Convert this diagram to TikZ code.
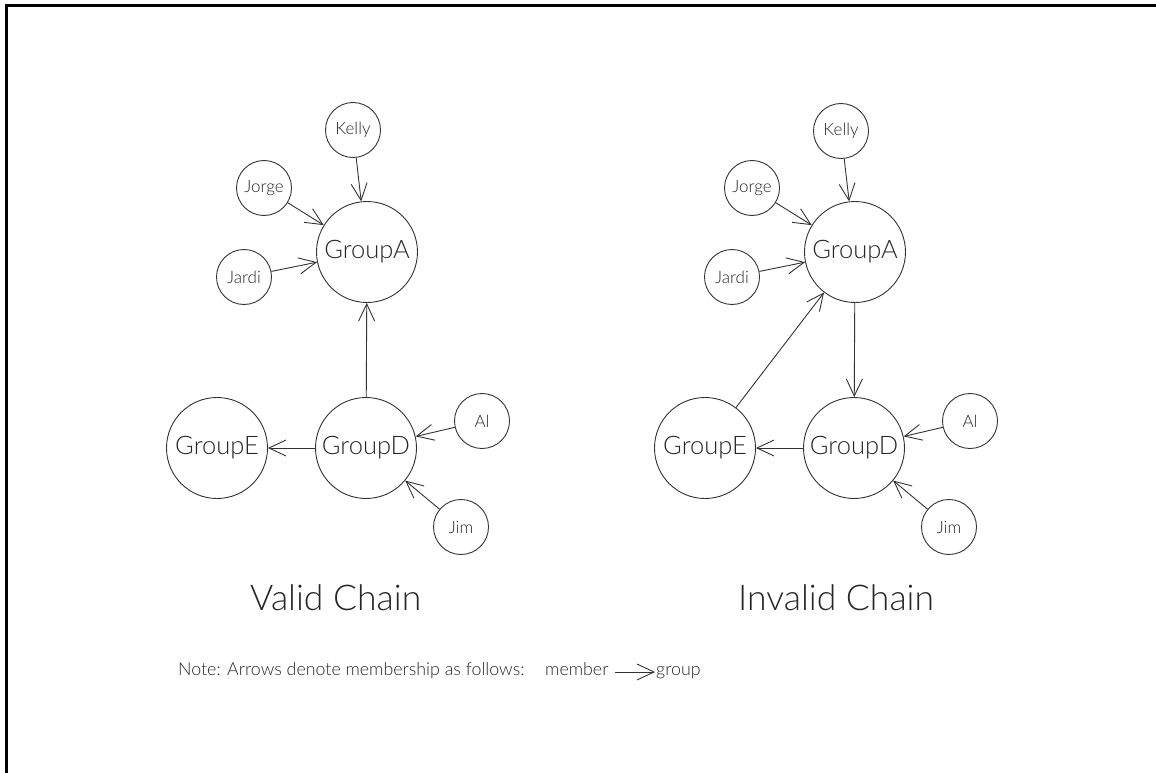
\documentclass[tikz,border=0pt]{standalone}
\usepackage{fontspec}
\setmainfont{Lato Light}
\usetikzlibrary{arrows.meta}
\begin{document}
\begin{tikzpicture}[x=1pt,y=-1pt,
  member/.style={circle,draw=black!80,line width=0.9pt,minimum size=55pt,
    inner sep=0pt,text=black!85,font=\fontsize{17}{17}\selectfont},
  group/.style={circle,draw=black!80,line width=0.9pt,minimum size=101pt,
    inner sep=0pt,text=black!85,font=\fontsize{25.5}{25.5}\selectfont},
  link/.style={draw=black!80,line width=0.9pt,
    -{Straight Barb[length=17pt,width=16pt]}},
  caption/.style={anchor=base west,inner sep=0pt,text=black!85,
    font=\fontsize{35.5}{35.5}\selectfont},
  notetext/.style={anchor=base west,inner sep=0pt,text=black!85,
    font=\fontsize{17.8}{17.8}\selectfont}]
\useasboundingbox (0,0) rectangle (1156,773);

% page frame (top and left edges)
\draw[line width=3pt] (6.5,773) -- (6.5,5.5) -- (1156,5.5);

% ---- valid chain ----
\node[member] (vKelly) at (353,130) {Kelly};
\node[member] (vJorge) at (264,188) {Jorge};
\node[group]  (vA)     at (367,252) {GroupA};
\node[member] (vJardi) at (244,277) {Jardi};
\node[group]  (vE)     at (217,448) {GroupE};
\node[group]  (vD)     at (366,448) {GroupD};
\node[member] (vAl)    at (482,421) {Al};
\node[member] (vJim)   at (461,527) {Jim};

\draw[link] (vKelly) -- (vA);
\draw[link] (vJorge) -- (vA);
\draw[link] (vJardi) -- (vA);
\draw[link] (vD) -- (vA);
\draw[link] (vD) -- (vE);
\draw[link] (vAl) -- (vD);
\draw[link] (vJim) -- (vD);

\node[caption] (vTitle) at (250,610) {Valid Chain};

% ---- invalid chain ----
\node[member] (iKelly) at (841,131) {Kelly};
\node[member] (iJorge) at (752,188) {Jorge};
\node[group]  (iA)     at (855,252) {GroupA};
\node[member] (iJardi) at (732,277) {Jardi};
\node[group]  (iE)     at (705,448) {GroupE};
\node[group]  (iD)     at (854,448) {GroupD};
\node[member] (iAl)    at (970,421) {Al};
\node[member] (iJim)   at (949,527) {Jim};

\draw[link] (iKelly) -- (iA);
\draw[link] (iJorge) -- (iA);
\draw[link] (iJardi) -- (iA);
\draw[link] (iA) -- (iD);
\draw[link] (iD) -- (iE);
\draw[link] (iE) -- (iA);
\draw[link] (iAl) -- (iD);
\draw[link] (iJim) -- (iD);

\node[caption] (iTitle) at (738,610) {Invalid Chain};

% ---- legend ----
\node[notetext] (note) at (178,675) {Note: Arrows denote membership as follows:};
\node[notetext] (mem)  at (545,675) {member};
\node[notetext] (grp)  at (656,675) {group};
\coordinate (legTail) at (615,672);
\coordinate (legTip)  at (655,672);
\draw[link] (legTail) -- (legTip);
\end{tikzpicture}
\end{document}
